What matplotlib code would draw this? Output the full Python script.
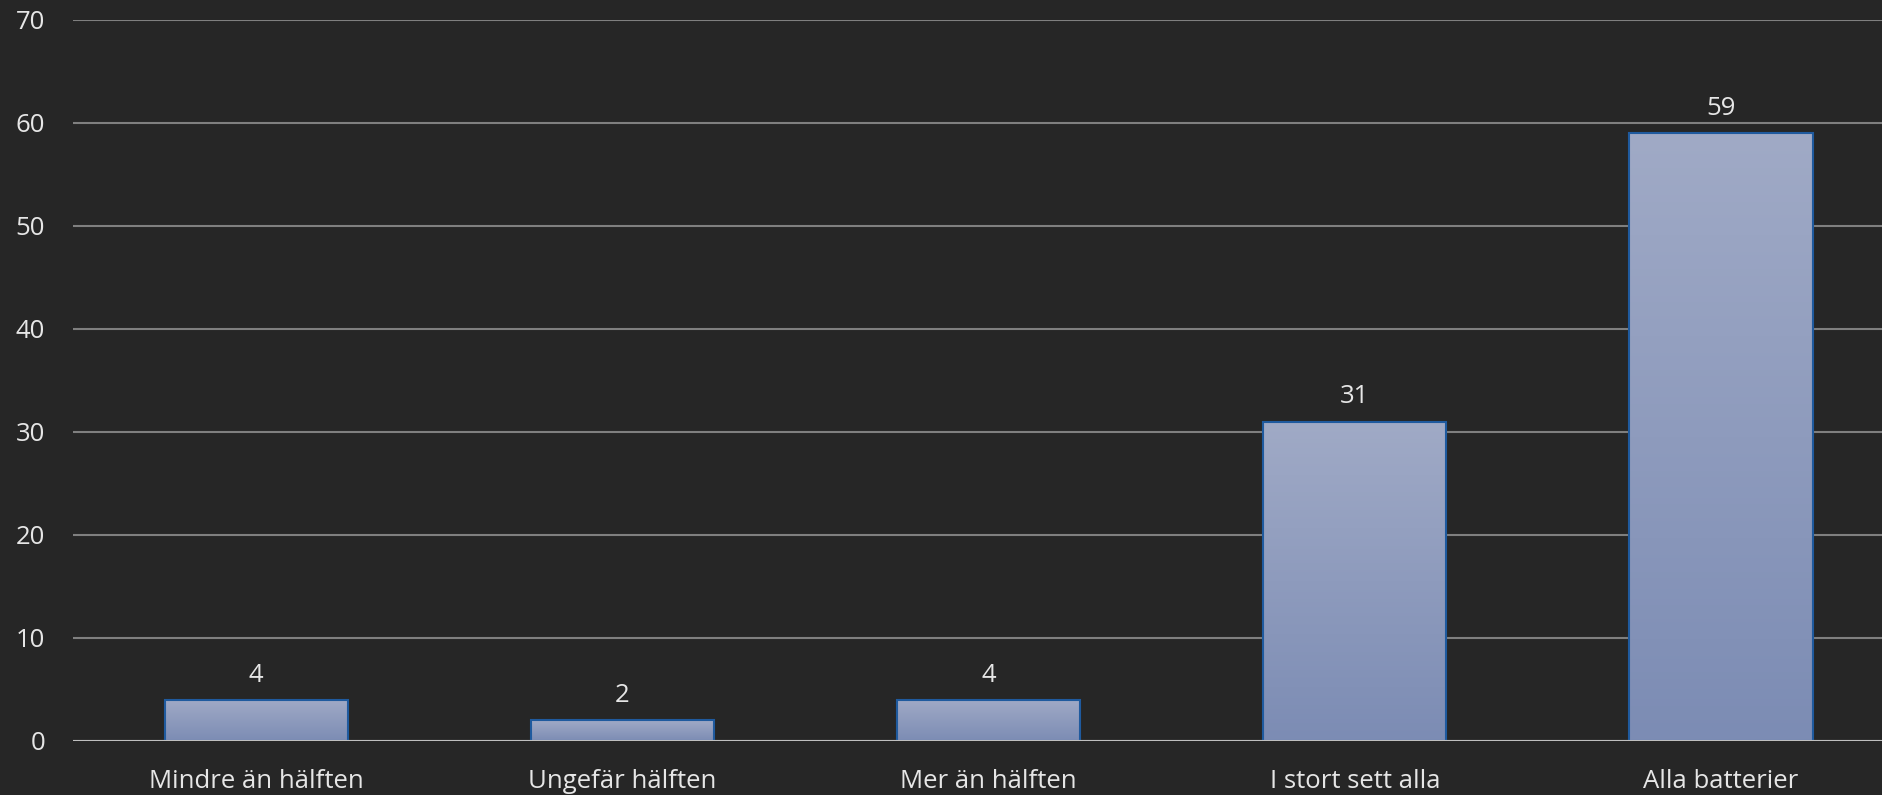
import matplotlib
matplotlib.use('Agg')
import matplotlib.pyplot as plt
import numpy as np
from matplotlib.colors import LinearSegmentedColormap

categories = ['Mindre än hälften', 'Ungefär hälften', 'Mer än hälften',
              'I stort sett alla', 'Alla batterier']
values = [4, 2, 4, 31, 59]
yticks = [0, 10, 20, 30, 40, 50, 60, 70]

bg = '#262626'
txt = '#e6e6e6'
plt.rcParams['font.family'] = ['Open Sans', 'DejaVu Sans']

fig = plt.figure(figsize=(18.83, 7.95), dpi=100, facecolor=bg)
# plot area runs a little past the right edge of the picture
ax = fig.add_axes([0.0388, 0.068, 0.9724, 0.907], facecolor=bg)

x = np.arange(len(categories))
bars = ax.bar(x, values, width=0.5, color='none', edgecolor='#1f5a9e',
              linewidth=1.5, zorder=3)

# vertical gradient inside each bar
cmap = LinearSegmentedColormap.from_list('g', ['#7c8cb4', '#a0aac6'])
grad = np.linspace(0, 1, 256).reshape(-1, 1)
for b in bars:
    x0, y0 = b.get_x(), b.get_y()
    im = ax.imshow(grad, cmap=cmap, origin='lower', aspect='auto',
                   extent=[x0, x0 + b.get_width(), y0, y0 + b.get_height()],
                   zorder=2)
    im.set_clip_path(b)

for xi, v in zip(x, values):
    ax.text(xi, v + 2.4, str(v), ha='center', va='center', color=txt, fontsize=18.5)

ax.set_xlim(-0.5, len(categories) - 0.5)
ax.set_ylim(0, 70)
ax.set_yticks(yticks)
ax.set_xticks(x)
ax.set_xticklabels(categories)
ax.tick_params(axis='both', colors=txt, labelsize=18.5, length=0)
ax.tick_params(axis='y', pad=20)
ax.tick_params(axis='x', pad=20)
for s in ax.spines.values():
    s.set_visible(False)
ax.grid(axis='y', color='#7f7f7f', linewidth=1.5, zorder=1)
ax.axhline(0, color='#bfbfbf', linewidth=1.5, zorder=4)

fig.savefig('out.png', dpi=100, facecolor=bg)
